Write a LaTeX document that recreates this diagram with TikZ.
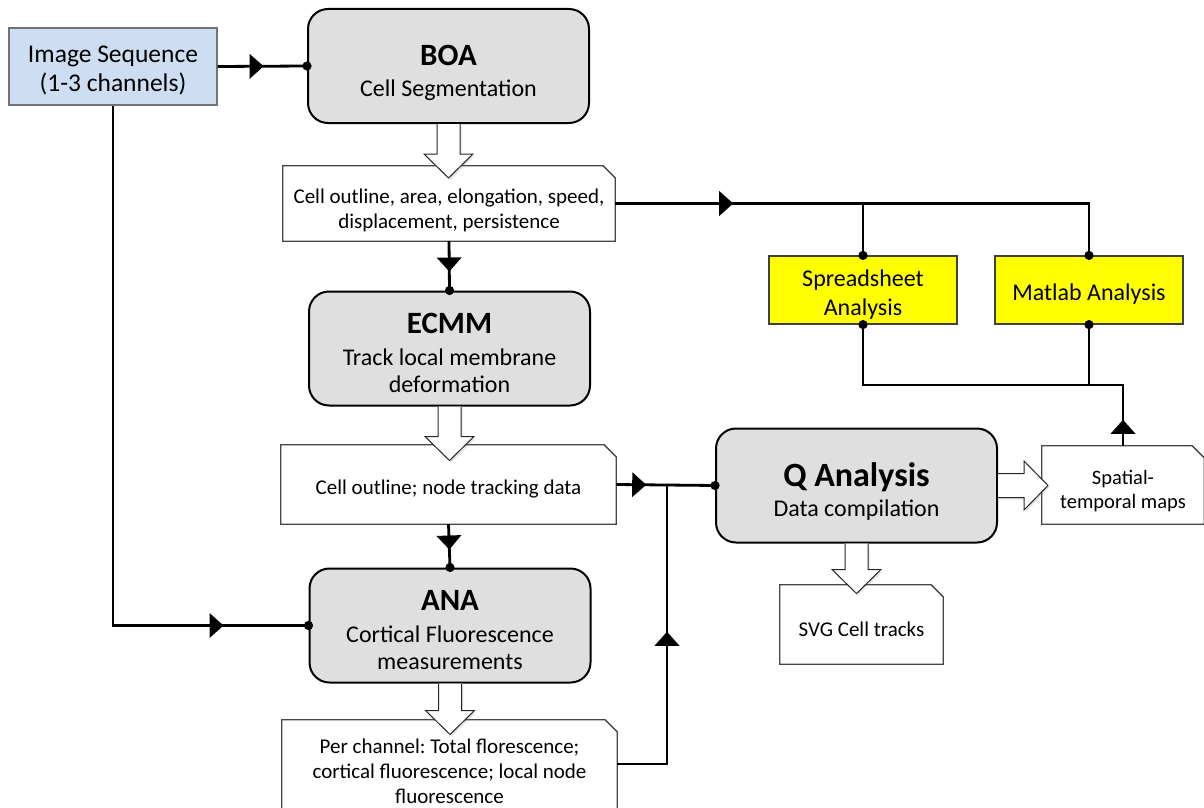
\documentclass[tikz,border=0pt]{standalone}
\usepackage{fontspec}
\setmainfont{Carlito}
\frenchspacing
\usetikzlibrary{arrows.meta,decorations.markings,calc,shadows}
\definecolor{seqblue}{RGB}{205,222,242}
\definecolor{boxgray}{RGB}{223,223,223}
\definecolor{docline}{RGB}{70,70,70}
\definecolor{yel}{RGB}{255,255,0}
\newcommand\boxtitle{\fontsize{31}{36}\selectfont\bfseries}
\newcommand\boxsub{\fontsize{24}{27}\selectfont}
\newcommand\doctxt{\fontsize{21}{25}\selectfont}
\newcommand\docoutline[1]{\draw[docframe] (#1.south west) -- (#1.north west) -- ($(#1.north east)+(-12,0)$) -- ($(#1.north east)+(0,12)$) -- (#1.south east) -- cycle;}
\newcommand\hollowdown[2]{\draw[hollow] ($(#1.south)+(-11.5,0)$) -- ++(0,#2) -- ++(-13,0) -- ++(24.5,24) -- ++(24.5,-24) -- ++(-13,0) -- ++(0,-#2);}
\begin{document}
\begin{tikzpicture}[x=1pt,y=-1pt,
  proc/.style={draw=black, line width=2pt, fill=boxgray, rounded corners=20pt,
    minimum width=281pt, minimum height=114pt, inner sep=0pt},
  proctext/.style={align=center, inner sep=0pt, font=\boxsub},
  docbox/.style={minimum width=#1, inner sep=0pt},
  doctext/.style={align=center, inner sep=0pt, font=\doctxt},
  docframe/.style={draw=docline, line width=1.3pt, fill=white},
  yelbox/.style={draw=black!75, line width=1.2pt, fill=yel, minimum width=188pt,
    minimum height=68pt, inner sep=0pt},
  yeltext/.style={align=center, inner sep=0pt, font=\fontsize{24}{29}\selectfont},
  conn/.style={line width=2.8pt},
  dotend/.style={-{Circle[length=9pt,width=9pt]}, shorten >=-4.5pt},
  tri at/.style={postaction={decorate,decoration={markings,
    mark=at position #1 with {\arrow{Triangle[length=14pt,width=25pt,line width=0pt]}}}}},
  hollow/.style={draw=black!85, line width=1pt, fill=white, line join=miter,
    drop shadow={opacity=0.22, shadow xshift=1.5pt, shadow yshift=-2pt}},
]
\useasboundingbox (0,0) rectangle (1204,808);

% document boxes: frames
\node[docbox=332pt, minimum height=75pt] (doc1) at (449,203.5) {};
\node[docbox=335pt, minimum height=79pt] (doc2) at (448.5,484.5) {};
\node[docbox=335pt, minimum height=100pt] (doc3) at (449.5,770) {};
\node[docbox=162pt, minimum height=78pt] (spat) at (1123,485) {};
\node[docbox=163pt, minimum height=79pt] (svg) at (861.5,624.5) {};
\docoutline{doc1}
\docoutline{doc2}
\docoutline{doc3}
\docoutline{spat}
\docoutline{svg}
\node[doctext] (doc1t) at ($(doc1)+(0,7)$) {Cell outline, area, elongation, speed,\\displacement, persistence};
\node[doctext] (doc2t) at ($(doc2)+(0,5)$) {Cell outline; node tracking data};
\node[doctext] (doc3t) at ($(doc3)+(0,1)$) {Per channel: Total florescence;\\cortical fluorescence; local node\\fluorescence};
\node[doctext, font=\fontsize{20.5}{23.5}\selectfont] (spatt) at ($(spat)+(0,6)$) {Spatial-\\temporal maps};
\node[doctext] (svgt) at ($(svg)+(0,5)$) {SVG Cell tracks};

% process boxes
\node[draw=black!55, line width=1.2pt, fill=seqblue, minimum width=208pt, minimum height=77pt,
  inner sep=0pt] (img) at (113,66.5) {};
\node[align=center, inner sep=0pt, font=\fontsize{25.5}{29.5}\selectfont] (imgt) at ($(img)+(0,4)$) {Image Sequence\\(1-3 channels)};
\node[proc] (boa) at (448.5,66) {};
\node[proc] (ecmm) at (449.5,348.5) {};
\node[proc] (ana) at (450,625.5) {};
\node[proc] (q) at (856.5,485.5) {};
\node[proctext] (boat) at ($(boa)+(0,7)$) {{\boxtitle BOA}\\[4pt]Cell Segmentation};
\node[proctext] (ecmmt) at ($(ecmm)+(0,4)$) {{\boxtitle ECMM}\\[5pt]Track local membrane\\deformation};
\node[proctext] (anat) at ($(ana)+(0,5)$) {{\boxtitle ANA}\\[5pt]Cortical Fluorescence\\measurements};
\node[proctext] (qt) at ($(q)+(0,6)$) {{\fontsize{34}{40}\selectfont\bfseries Q Analysis}\\[3pt]Data compilation};
\node[yelbox] (spr) at (863,290) {};
\node[yelbox] (mat) at (1089,290) {};
\node[yeltext] (sprt) at ($(spr)+(0,5)$) {Spreadsheet\\Analysis};
\node[yeltext] (matt) at ($(mat)+(0,4)$) {Matlab Analysis};

% connectors
\draw[conn, dotend, tri at=46pt] (img.east) -- (boa.west);
\draw[conn, dotend, tri at=-85pt] (img.south) |- (ana.west);
\draw[conn, dotend, tri at=-19pt] (doc1.south) -- (ecmm.north);
\draw[conn, dotend, tri at=118pt] (doc1.east) -| (mat.north);
\draw[conn, dotend] (spr.north |- doc1.east) -- (spr.north);
\coordinate (bus) at (1123,385);
\draw[conn, dotend, tri at=26pt] (spat.north) |- (bus -| spr.south) -- (spr.south);
\draw[conn, dotend] (mat.south |- bus) -- (mat.south);
\draw[conn, dotend, tri at=-18pt] (doc2.south) -- (ana.north);
\draw[conn, dotend, tri at=30pt] (doc2.east) -- (q.west);
\coordinate (jn) at (667,485);
\draw[conn, tri at=182pt] ([yshift=6pt]doc3.east) -| (jn);

% hollow arrows
\hollowdown{boa}{30}
\hollowdown{ecmm}{30}
\hollowdown{ana}{27}
\hollowdown{q}{26}
\draw[hollow] ($(q.east)+(0,-12)$) -- ++(26,0) -- ++(0,-12.5) -- ++(24,24.5) -- ++(-24,24.5) -- ++(0,-12.5) -- ++(-26,0);
\end{tikzpicture}
\end{document}
